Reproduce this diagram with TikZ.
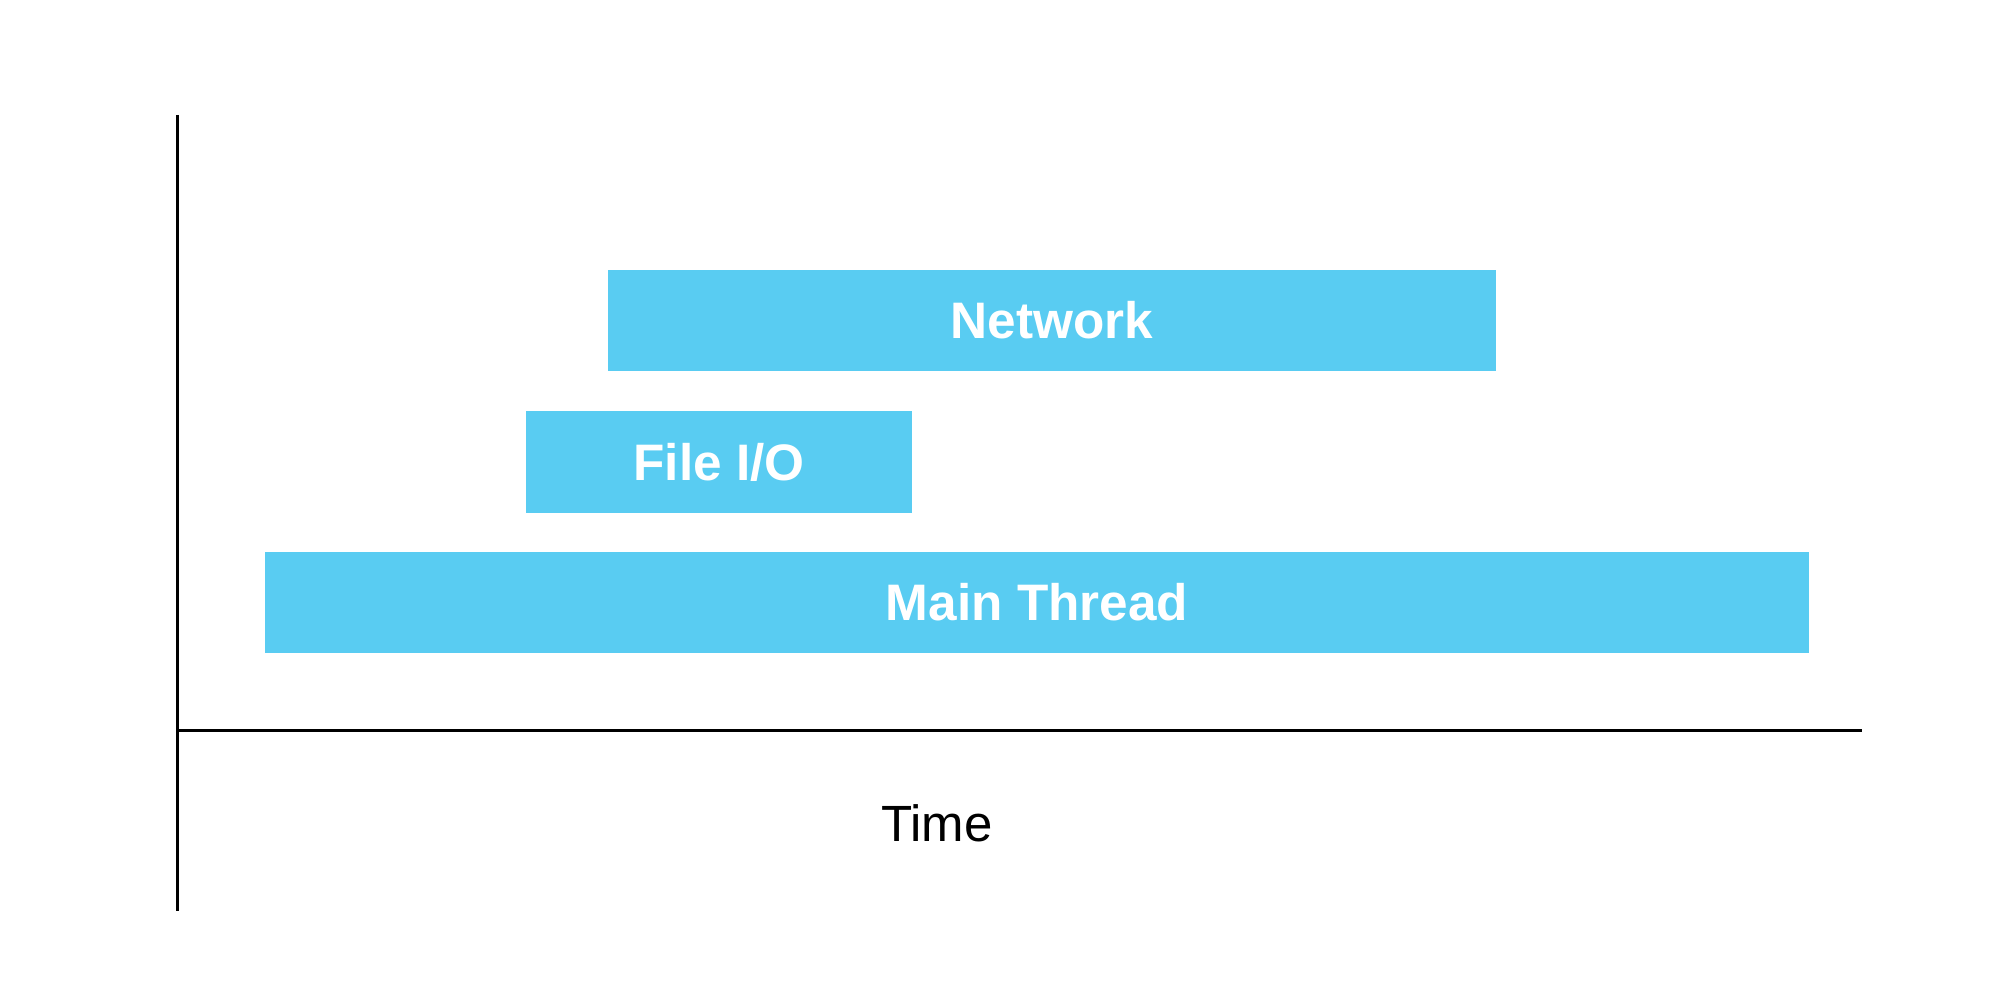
\documentclass[tikz,border=0pt]{standalone}
\usepackage{fontspec}
\setmainfont{Liberation Sans}
\definecolor{barblue}{RGB}{89,204,242}
\tikzset{
  bar/.style={fill=barblue, draw=none, inner sep=0pt, text=white,
    font=\fontsize{14.6}{17}\selectfont\bfseries},
  axisline/.style={draw=black, line width=0.85pt},
  axislabel/.style={inner sep=0pt, text=black, font=\fontsize{14.5}{17}\selectfont}
}
\begin{document}
\begin{tikzpicture}
\useasboundingbox (0,0) rectangle (20,10);
\fill[white] (0,0) rectangle (20,10);
% bars
\node[bar, minimum width=8.88cm, minimum height=1.01cm] (network) at (10.52,6.795) {Network};
\node[bar, minimum width=3.86cm, minimum height=1.02cm] (fileio) at (7.19,5.38) {File I/O};
\node[bar, minimum width=15.44cm, minimum height=1.01cm] (main) at (10.37,3.975) {Main Thread};
% axes
\coordinate (ytop) at (1.775,8.85);
\coordinate (ybot) at (1.775,0.89);
\coordinate (xleft) at (1.775,2.695);
\coordinate (xright) at (18.62,2.695);
\draw[axisline] (ytop) -- (ybot);
\draw[axisline] (xleft) -- (xright);
\node[axislabel] (time) at (9.37,1.77) {Time};
\end{tikzpicture}
\end{document}
